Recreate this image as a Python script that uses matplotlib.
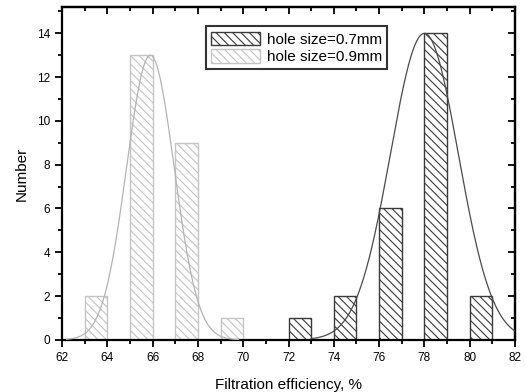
import numpy as np
import matplotlib.pyplot as plt
from matplotlib.ticker import MultipleLocator

plt.rcParams['font.family'] = ['Liberation Sans', 'DejaVu Sans']
plt.rcParams['hatch.linewidth'] = 0.8

# histogram data: left edge of each 1%-wide bin and counts
bins_07 = [72, 74, 76, 78, 80]
counts_07 = [1, 2, 6, 14, 2]
bins_09 = [63, 65, 67, 69]
counts_09 = [2, 13, 9, 1]

# gaussian fit parameters (amplitude, centre, sigma, x range)
fit_07 = (14.0, 78.0, 1.5, 73.0, 82.0)
fit_09 = (13.0, 65.9, 1.05, 62.2, 69.8)

dark = '#3a3a3a'
light = '#c4c4c4'


def main():
    fig = plt.figure(figsize=(5.26, 3.92), dpi=100)
    ax = fig.add_axes([0.118, 0.133, 0.861, 0.849])

    plt.rcParams['hatch.color'] = dark
    b1 = ax.bar(bins_07, counts_07, width=1, align='edge', facecolor='white',
                edgecolor=dark, hatch='\\\\\\\\', linewidth=1.0,
                label='hole size=0.7mm', zorder=2)
    plt.rcParams['hatch.color'] = light
    b2 = ax.bar(bins_09, counts_09, width=1, align='edge', facecolor='white',
                edgecolor=light, hatch='\\\\\\\\', linewidth=1.0,
                label='hole size=0.9mm', zorder=2)

    for (a, mu, s, x0, x1), col in [(fit_07, '#4a4a4a'), (fit_09, '#b4b4b4')]:
        xs = np.linspace(x0, x1, 300)
        ax.plot(xs, a * np.exp(-(xs - mu) ** 2 / (2 * s ** 2)), color=col,
                lw=0.9, zorder=3)

    ax.set_xlim(62, 82)
    ax.set_ylim(0, 15.2)
    ax.xaxis.set_major_locator(MultipleLocator(2))
    ax.xaxis.set_minor_locator(MultipleLocator(1))
    ax.yaxis.set_major_locator(MultipleLocator(2))
    ax.yaxis.set_minor_locator(MultipleLocator(1))

    for sp in ax.spines.values():
        sp.set_linewidth(1.6)
    ax.tick_params(which='both', direction='out', width=1.3, labelsize=8.5,
                   top=False, right=False)
    ax.tick_params(which='major', length=5)
    ax.tick_params(which='minor', length=3)

    # inward ticks on top and right, Origin style
    sec_x = ax.secondary_xaxis('top')
    sec_x.xaxis.set_major_locator(MultipleLocator(2))
    sec_x.xaxis.set_minor_locator(MultipleLocator(1))
    sec_x.tick_params(which='both', direction='in', width=1.3, labeltop=False)
    sec_x.tick_params(which='major', length=5)
    sec_x.tick_params(which='minor', length=3)
    sec_x.spines['top'].set_linewidth(1.6)
    sec_y = ax.secondary_yaxis('right')
    sec_y.yaxis.set_major_locator(MultipleLocator(2))
    sec_y.yaxis.set_minor_locator(MultipleLocator(1))
    sec_y.tick_params(which='both', direction='in', width=1.3, labelright=False)
    sec_y.tick_params(which='major', length=5)
    sec_y.tick_params(which='minor', length=3)
    sec_y.spines['right'].set_linewidth(1.6)

    ax.set_xlabel('Filtration efficiency, %', fontsize=11, labelpad=10)
    ax.set_ylabel('Number', fontsize=11, labelpad=6)

    leg = ax.legend(handles=[b1, b2], loc='upper left',
                    bbox_to_anchor=(0.3, 0.965), fontsize=11, frameon=True,
                    fancybox=False, edgecolor='black', handlelength=3.2,
                    handleheight=1.0, labelspacing=0.15, borderpad=0.35,
                    handletextpad=0.45)
    leg.get_frame().set_linewidth(1.5)

    fig.savefig('out.png', dpi=100)


if __name__ == "__main__":
    main()
